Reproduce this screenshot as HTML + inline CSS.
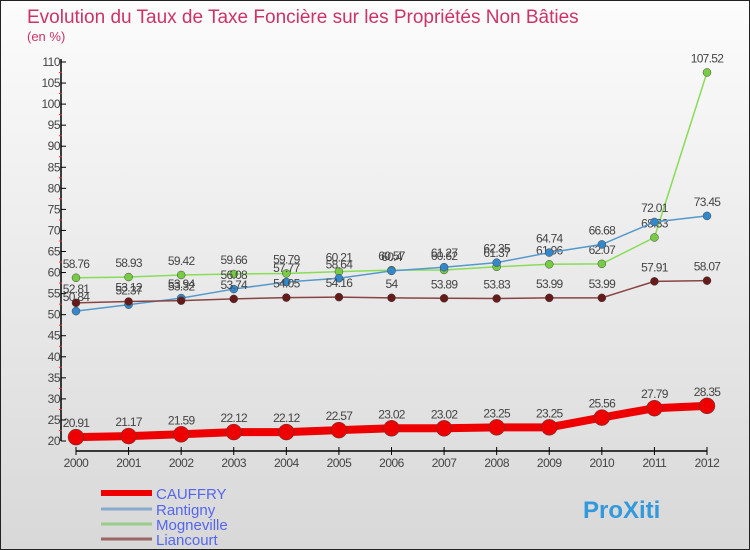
<!DOCTYPE html>
<html><head><meta charset="utf-8"><style>
body{margin:0;}
#c{width:750px;height:550px;position:relative;background:linear-gradient(#fcfcfc,#d8d8d8);border:1px solid #222;box-sizing:border-box;overflow:hidden;font-family:"Liberation Sans",sans-serif;}
svg text{font-family:"Liberation Sans",sans-serif;}
</style></head><body>
<div id="c">
<svg id="s" width="750" height="550">
<text x="26" y="22" font-size="19" fill="#cc3366">Evolution du Taux de Taxe Foncière sur les Propriétés Non Bâties</text>
<text x="26" y="40" font-size="13" fill="#cc3366">(en %)</text>
</svg>
</div>
<script>
const years=["2000","2001","2002","2003","2004","2005","2006","2007","2008","2009","2010","2011","2012"];
const cauffry=[20.91,21.17,21.59,22.12,22.12,22.57,23.02,23.02,23.25,23.25,25.56,27.79,28.35];
const rantigny=[50.84,52.37,53.94,56.08,57.77,58.64,60.4,61.27,62.35,64.74,66.68,72.01,73.45];
const mogneville=[58.76,58.93,59.42,59.66,59.79,60.21,60.57,60.62,61.37,61.96,62.07,68.33,107.52];
const liancourt=[52.81,53.12,53.32,53.74,54.05,54.16,54,53.89,53.83,53.99,53.99,57.91,58.07];
const yTicks=[20,25,30,35,40,45,50,55,60,65,70,75,80,85,90,95,100,105,110];
const names=["CAUFFRY","Rantigny","Mogneville","Liancourt"];
const NS="http://www.w3.org/2000/svg";
const s=document.getElementById('s');
const X=i=>75+i*(706-75)/(years.length-1);
const Y=v=>440-(v-20)*(440-61)/90;
function mk(t,a){const e=document.createElementNS(NS,t);for(const k in a)e.setAttribute(k,a[k]);s.appendChild(e);return e;}
let e=mk('line',{x1:60,y1:58,x2:60,y2:440,stroke:'#000','stroke-width':1.5});


e=mk('line',{x1:75,y1:450,x2:706,y2:450,stroke:'#000','stroke-width':1.5});


yTicks.forEach(v=>{
 mk('line',{x1:60,y1:Y(v),x2:65,y2:Y(v),stroke:'#000'});
 if(v<110)mk('line',{x1:58,y1:Y(v+2.5),x2:61,y2:Y(v+2.5),stroke:'#e33'});
 const t=mk('text',{x:59,y:Y(v)+4,'font-size':12,'text-anchor':'end',fill:'#444','letter-spacing':'-0.5'});t.textContent=v;
 
 
});
years.forEach((y,i)=>{
 mk('line',{x1:X(i),y1:446,x2:X(i),y2:454,stroke:'#000'});
 const t=mk('text',{x:X(i),y:466,'font-size':12,'text-anchor':'middle',fill:'#444','letter-spacing':'-0.5'});t.textContent=y;
 
 
});
const series=[[mogneville,'#88dd55','#77cc44',1.5,4,'mogneville'],[rantigny,'#5599cc','#3388cc',1.5,4,'rantigny'],[liancourt,'#884444','#661a1a',1.5,4,'liancourt'],[cauffry,'#ee0000','#ee0000',8,8,'cauffry']];
series.forEach(([d,c,pc,w,r,n])=>{
 const p=mk('polyline',{points:d.map((v,i)=>X(i)+','+Y(v)).join(' '),fill:'none',stroke:c,'stroke-width':w});
 
 
 d.forEach((v,i)=>{
  const ci=mk('circle',{cx:X(i),cy:Y(v),r:r,fill:pc,stroke:'#444','stroke-width':0.5});
  
  
  const t=mk('text',{x:X(i),y:Y(v)-10,'font-size':12,'text-anchor':'middle',fill:'#444','letter-spacing':'-0.7'});t.textContent=v;
  
  
 });
});
const lc=['#ee0000','#88aacc','#99cc88','#996666'],lw=[6,3,3,3],ly=[492,508,523,538];
names.forEach((n,i)=>{
 const l=mk('line',{x1:100,y1:ly[i],x2:151,y2:ly[i],stroke:lc[i],'stroke-width':lw[i]});
 
 
 const t=mk('text',{x:155,y:ly[i]+6,'font-size':15,fill:'#5566ee'});t.textContent=n;
 
 
});
const b=mk('text',{x:582,y:517,'font-size':24,'font-weight':'bold',fill:'#3399dd'});b.textContent='ProXiti';


</script>
</body></html>
